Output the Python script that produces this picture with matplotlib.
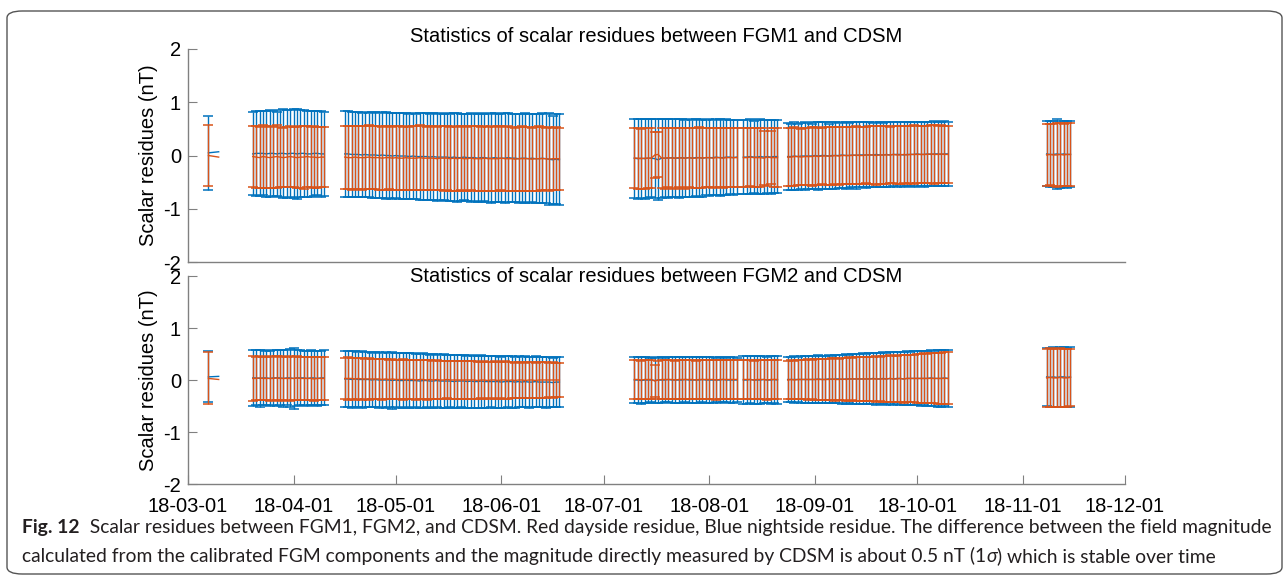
import matplotlib.pyplot as plt
import matplotlib.dates as mdates
from matplotlib.patches import FancyBboxPatch
import numpy as np
import pandas as pd

plt.rcParams['font.family'] = ['Liberation Sans', 'DejaVu Sans']

# days with data, one block per continuous run
segments = [
    pd.to_datetime(["2018-03-07", "2018-03-10"]),
    pd.date_range("2018-03-20", "2018-04-10"),
    pd.date_range("2018-04-16", "2018-06-18"),
    pd.date_range("2018-07-10", "2018-08-09"),
    pd.date_range("2018-08-11", "2018-08-21"),
    pd.date_range("2018-08-24", "2018-10-10"),
    pd.date_range("2018-11-08", "2018-11-15"),
]

nan = np.nan

# FGM1 - CDSM, nightside (blue)
fgm1_night_mean = [
    [0.05, 0.07],
    [0.03, 0.04, 0.04, 0.04, 0.03, 0.04, 0.04, 0.03, 0.04, 0.04, 0.03, 0.04, 0.04, 0.03, 0.04, 0.04, 0.03, 0.03, 0.04, 0.04, 0.03, 0.03],
    [0.03, 0.03, 0.02, 0.02, 0.02, 0.01, 0.02, 0.01, 0.01, 0.01, 0.00, 0.01, 0.00, 0.00, -0.01, 0.00, -0.01, -0.01, -0.01, -0.02, -0.01, -0.02, -0.02, -0.02, -0.02, -0.03, -0.02, -0.03, -0.03, -0.03, -0.03, -0.04,
     -0.03, -0.04, -0.04, -0.03, -0.04, -0.04, -0.04, -0.05, -0.04, -0.04, -0.05, -0.05, -0.04, -0.05, -0.05, -0.05, -0.04, -0.05, -0.05, -0.06, -0.05, -0.05, -0.06, -0.05, -0.06, -0.06, -0.05, -0.06, -0.07, -0.08, -0.07, -0.08],
    [-0.05, -0.06, -0.05, -0.06, -0.05, -0.05, -0.06, -0.08, -0.05, -0.05, -0.05, -0.04, -0.05, -0.05, -0.04, -0.05, -0.04, -0.05, -0.04, -0.04, -0.05, -0.04, -0.04, -0.04, -0.03, -0.04, -0.04, -0.03, -0.03, -0.04, -0.03],
    [-0.03, -0.03, -0.02, -0.03, -0.03, -0.02, -0.03, -0.02, -0.03, -0.02, -0.02],
    [-0.02, -0.02, -0.01, -0.02, -0.01, -0.01, -0.01, -0.01, 0.00, -0.01, 0.00, 0.00, -0.01, 0.00, 0.00, 0.00, 0.01, 0.00, 0.00, 0.01, 0.00, 0.01, 0.01, 0.01,
     0.01, 0.01, 0.02, 0.01, 0.01, 0.02, 0.01, 0.02, 0.02, 0.02, 0.01, 0.02, 0.02, 0.02, 0.03, 0.02, 0.02, 0.03, 0.02, 0.03, 0.03, 0.02, 0.03, 0.03],
    [0.03, 0.02, 0.02, 0.03, 0.02, 0.03, 0.02, 0.02],
]
fgm1_night_std = [
    [0.70, nan],
    [0.78, 0.80, 0.80, 0.79, 0.80, 0.81, 0.80, 0.79, 0.81, 0.83, 0.82, 0.81, 0.83, 0.84, 0.82, 0.81, 0.80, 0.81, 0.80, 0.79, 0.80, 0.79],
    [0.80, 0.80, 0.79, 0.80, 0.79, 0.79, 0.80, 0.79, 0.80, 0.80, 0.79, 0.80, 0.81, 0.80, 0.80, 0.79, 0.80, 0.81, 0.80, 0.80, 0.81, 0.80, 0.81, 0.82, 0.81, 0.80, 0.81, 0.82, 0.81, 0.81, 0.82, 0.81,
     0.82, 0.83, 0.82, 0.81, 0.82, 0.83, 0.82, 0.82, 0.83, 0.82, 0.83, 0.84, 0.83, 0.82, 0.83, 0.84, 0.83, 0.82, 0.83, 0.84, 0.83, 0.84, 0.83, 0.82, 0.83, 0.84, 0.85, 0.84, 0.86, 0.83, 0.84, 0.85],
    [0.74, 0.75, 0.74, 0.75, 0.74, 0.73, 0.74, 0.76, 0.74, 0.73, 0.74, 0.73, 0.73, 0.74, 0.73, 0.72, 0.73, 0.72, 0.72, 0.73, 0.72, 0.71, 0.72, 0.71, 0.71, 0.72, 0.70, 0.71, 0.70, 0.71, 0.70],
    [0.70, 0.69, 0.70, 0.68, 0.69, 0.70, 0.69, 0.68, 0.70, 0.69, 0.69],
    [0.63, 0.62, 0.63, 0.62, 0.62, 0.63, 0.62, 0.61, 0.62, 0.63, 0.62, 0.62, 0.61, 0.62, 0.62, 0.61, 0.62, 0.62, 0.61, 0.61, 0.62, 0.61, 0.61, 0.62,
     0.61, 0.60, 0.61, 0.61, 0.60, 0.61, 0.61, 0.60, 0.61, 0.60, 0.61, 0.60, 0.60, 0.61, 0.60, 0.60, 0.61, 0.60, 0.60, 0.61, 0.60, 0.60, 0.61, 0.60],
    [0.61, 0.62, 0.62, 0.65, 0.63, 0.62, 0.63, 0.62],
]

# FGM1 - CDSM, dayside (red)
fgm1_day_mean = [
    [0.00, -0.03],
    [-0.02, -0.03, -0.04, -0.02, -0.03, -0.04, -0.03, -0.02, -0.03, -0.04, -0.03, -0.02, -0.03, -0.04, -0.03, -0.03, -0.02, -0.03, -0.03, -0.04, -0.03, -0.03],
    [-0.03, -0.04, -0.04, -0.03, -0.04, -0.04, -0.04, -0.03, -0.04, -0.04, -0.04, -0.05, -0.04, -0.04, -0.05, -0.04, -0.05, -0.05, -0.04, -0.05, -0.05, -0.05, -0.04, -0.05, -0.05, -0.05, -0.05, -0.06, -0.05, -0.05, -0.05, -0.06,
     -0.05, -0.06, -0.05, -0.06, -0.06, -0.05, -0.06, -0.06, -0.06, -0.05, -0.06, -0.06, -0.06, -0.06, -0.05, -0.06, -0.06, -0.06, -0.07, -0.06, -0.06, -0.06, -0.06, -0.07, -0.06, -0.06, -0.06, -0.06, -0.07, -0.06, -0.06, -0.06],
    [-0.05, -0.05, -0.06, -0.05, -0.05, -0.05, 0.01, 0.02, -0.05, -0.05, -0.04, -0.05, -0.05, -0.04, -0.05, -0.05, -0.04, -0.05, -0.05, -0.04, -0.05, -0.04, -0.04, -0.05, -0.04, -0.04, -0.05, -0.04, -0.04, -0.04, -0.04],
    [-0.04, -0.04, -0.03, -0.04, -0.04, -0.04, -0.05, -0.03, -0.04, -0.04, -0.04],
    [-0.03, -0.03, -0.02, -0.02, -0.03, -0.02, -0.02, -0.02, -0.01, -0.02, -0.01, -0.01, -0.01, -0.01, 0.00, -0.01, 0.00, 0.00, 0.00, 0.00, 0.01, 0.00, 0.00, 0.01,
     0.01, 0.01, 0.00, 0.01, 0.01, 0.01, 0.01, 0.02, 0.01, 0.01, 0.02, 0.01, 0.02, 0.02, 0.02, 0.02, 0.02, 0.02, 0.03, 0.02, 0.02, 0.03, 0.02, 0.02],
    [0.01, 0.02, 0.01, 0.01, 0.02, 0.01, 0.02, 0.02],
]
fgm1_day_std = [
    [0.58, nan],
    [0.58, 0.58, 0.57, 0.59, 0.58, 0.57, 0.58, 0.59, 0.57, 0.56, 0.57, 0.58, 0.56, 0.57, 0.58, 0.59, 0.57, 0.57, 0.58, 0.57, 0.57, 0.57],
    [0.59, 0.59, 0.60, 0.59, 0.59, 0.60, 0.59, 0.60, 0.59, 0.59, 0.60, 0.59, 0.60, 0.59, 0.59, 0.60, 0.60, 0.59, 0.60, 0.59, 0.60, 0.60, 0.61, 0.60, 0.59, 0.60, 0.60, 0.59, 0.60, 0.61, 0.60, 0.60,
     0.61, 0.60, 0.60, 0.61, 0.60, 0.60, 0.61, 0.61, 0.60, 0.61, 0.60, 0.61, 0.60, 0.61, 0.60, 0.60, 0.61, 0.60, 0.59, 0.60, 0.61, 0.60, 0.60, 0.59, 0.60, 0.61, 0.59, 0.58, 0.60, 0.58, 0.59, 0.58],
    [0.56, 0.57, 0.56, 0.57, 0.56, 0.56, 0.44, 0.42, 0.56, 0.57, 0.56, 0.56, 0.57, 0.56, 0.56, 0.57, 0.56, 0.56, 0.56, 0.57, 0.56, 0.56, 0.55, 0.56, 0.56, 0.55, 0.56, 0.56, 0.55, 0.56, 0.55],
    [0.55, 0.56, 0.55, 0.55, 0.56, 0.55, 0.51, 0.55, 0.50, 0.55, 0.55],
    [0.54, 0.54, 0.55, 0.54, 0.53, 0.54, 0.54, 0.55, 0.54, 0.54, 0.53, 0.54, 0.54, 0.55, 0.54, 0.54, 0.53, 0.54, 0.54, 0.54, 0.55, 0.54, 0.54, 0.53,
     0.54, 0.54, 0.55, 0.54, 0.54, 0.54, 0.53, 0.54, 0.54, 0.55, 0.54, 0.54, 0.54, 0.55, 0.54, 0.54, 0.53, 0.54, 0.54, 0.55, 0.54, 0.54, 0.54, 0.54],
    [0.59, 0.58, 0.59, 0.60, 0.59, 0.58, 0.59, 0.59],
]

# FGM2 - CDSM, nightside (blue)
fgm2_night_mean = [
    [0.06, 0.07],
    [0.04, 0.04, 0.03, 0.04, 0.04, 0.03, 0.04, 0.04, 0.04, 0.03, 0.04, 0.04, 0.03, 0.04, 0.04, 0.04, 0.03, 0.04, 0.04, 0.03, 0.04, 0.04],
    [0.02, 0.02, 0.01, 0.02, 0.01, 0.01, 0.01, 0.01, 0.00, 0.01, 0.00, 0.00, 0.00, 0.00, -0.01, 0.00, -0.01, -0.01, 0.00, -0.01, -0.01, -0.01, -0.02, -0.01, -0.01, -0.02, -0.02, -0.01, -0.02, -0.02, -0.02, -0.02,
     -0.03, -0.02, -0.02, -0.02, -0.03, -0.02, -0.03, -0.03, -0.02, -0.03, -0.03, -0.03, -0.03, -0.03, -0.04, -0.03, -0.03, -0.03, -0.04, -0.03, -0.04, -0.03, -0.04, -0.04, -0.03, -0.04, -0.04, -0.04, -0.04, -0.05, -0.04, -0.04],
    [0.00, 0.00, -0.01, 0.00, 0.00, 0.00, -0.01, 0.00, 0.00, 0.00, 0.01, 0.00, 0.00, 0.00, 0.00, 0.01, 0.00, 0.00, 0.00, 0.00, 0.01, 0.00, 0.00, 0.00, 0.00, 0.00, 0.01, 0.00, 0.00, 0.00, 0.00],
    [0.00, 0.00, 0.01, 0.00, 0.00, 0.00, 0.01, 0.00, 0.00, 0.01, 0.00],
    [0.01, 0.01, 0.01, 0.01, 0.01, 0.01, 0.01, 0.01, 0.01, 0.02, 0.01, 0.01, 0.02, 0.01, 0.02, 0.02, 0.01, 0.02, 0.02, 0.02, 0.02, 0.02, 0.02, 0.02,
     0.02, 0.03, 0.02, 0.02, 0.03, 0.02, 0.03, 0.02, 0.03, 0.03, 0.02, 0.03, 0.03, 0.03, 0.03, 0.03, 0.03, 0.03, 0.04, 0.03, 0.03, 0.03, 0.04, 0.03],
    [0.06, 0.05, 0.06, 0.05, 0.06, 0.06, 0.05, 0.06],
]
fgm2_night_std = [
    [0.49, nan],
    [0.54, 0.53, 0.54, 0.53, 0.52, 0.53, 0.53, 0.54, 0.53, 0.54, 0.53, 0.55, 0.58, 0.54, 0.53, 0.52, 0.53, 0.53, 0.52, 0.53, 0.52, 0.53],
    [0.54, 0.53, 0.54, 0.53, 0.53, 0.54, 0.53, 0.53, 0.52, 0.53, 0.53, 0.52, 0.53, 0.52, 0.54, 0.52, 0.52, 0.53, 0.51, 0.52, 0.52, 0.51, 0.52, 0.52, 0.51, 0.51, 0.52, 0.51, 0.51, 0.52, 0.51, 0.50,
     0.51, 0.51, 0.50, 0.51, 0.50, 0.51, 0.50, 0.50, 0.51, 0.50, 0.50, 0.49, 0.50, 0.50, 0.49, 0.50, 0.49, 0.50, 0.49, 0.49, 0.48, 0.49, 0.49, 0.48, 0.49, 0.48, 0.48, 0.49, 0.48, 0.47, 0.48, 0.48],
    [0.45, 0.44, 0.46, 0.44, 0.44, 0.43, 0.44, 0.45, 0.44, 0.43, 0.44, 0.44, 0.45, 0.44, 0.44, 0.43, 0.44, 0.45, 0.44, 0.44, 0.43, 0.44, 0.45, 0.44, 0.43, 0.44, 0.44, 0.43, 0.44, 0.44, 0.43],
    [0.47, 0.46, 0.45, 0.46, 0.46, 0.47, 0.46, 0.45, 0.46, 0.45, 0.46],
    [0.44, 0.44, 0.45, 0.44, 0.45, 0.45, 0.45, 0.46, 0.45, 0.46, 0.46, 0.46, 0.47, 0.46, 0.47, 0.47, 0.47, 0.48, 0.47, 0.48, 0.48, 0.48, 0.49, 0.48,
     0.49, 0.49, 0.50, 0.49, 0.50, 0.50, 0.50, 0.51, 0.50, 0.51, 0.51, 0.52, 0.51, 0.52, 0.52, 0.53, 0.52, 0.53, 0.54, 0.53, 0.54, 0.55, 0.54, 0.55],
    [0.56, 0.57, 0.58, 0.57, 0.58, 0.57, 0.56, 0.57],
]

# FGM2 - CDSM, dayside (red)
fgm2_day_mean = [
    [0.03, 0.01],
    [0.03, 0.03, 0.04, 0.03, 0.03, 0.03, 0.03, 0.04, 0.03, 0.03, 0.03, 0.03, 0.03, 0.04, 0.03, 0.03, 0.03, 0.03, 0.02, 0.03, 0.03, 0.03],
    [0.03, 0.03, 0.03, 0.02, 0.03, 0.02, 0.02, 0.02, 0.02, 0.02, 0.02, 0.01, 0.02, 0.01, 0.02, 0.01, 0.01, 0.01, 0.01, 0.01, 0.01, 0.00, 0.01, 0.01, 0.00, 0.01, 0.00, 0.01, 0.00, 0.00, 0.01, 0.00,
     0.00, 0.00, 0.00, 0.00, 0.00, 0.00, 0.00, -0.01, 0.00, 0.00, -0.01, 0.00, 0.00, -0.01, 0.00, 0.00, -0.01, 0.00, -0.01, 0.00, 0.00, -0.01, 0.00, 0.00, -0.01, 0.00, 0.00, 0.00, 0.00, 0.00, 0.00, 0.00],
    [0.01, 0.01, 0.00, 0.01, 0.01, 0.01, -0.02, 0.00, 0.01, 0.01, 0.01, 0.01, 0.00, 0.01, 0.01, 0.01, 0.01, 0.01, 0.00, 0.01, 0.01, 0.01, 0.01, 0.01, 0.00, 0.01, 0.01, 0.01, 0.01, 0.01, 0.01],
    [0.01, 0.01, 0.01, 0.00, 0.01, 0.01, 0.01, 0.00, 0.01, 0.01, 0.01],
    [0.00, 0.01, 0.00, 0.01, 0.01, 0.01, 0.01, 0.01, 0.01, 0.01, 0.01, 0.01, 0.01, 0.02, 0.01, 0.01, 0.02, 0.01, 0.02, 0.02, 0.02, 0.02, 0.02, 0.02,
     0.02, 0.02, 0.02, 0.02, 0.02, 0.02, 0.03, 0.02, 0.02, 0.03, 0.02, 0.03, 0.03, 0.03, 0.03, 0.03, 0.03, 0.03, 0.03, 0.03, 0.03, 0.03, 0.03, 0.03],
    [0.04, 0.05, 0.04, 0.04, 0.05, 0.04, 0.04, 0.05],
]
fgm2_day_std = [
    [0.50, nan],
    [0.43, 0.42, 0.43, 0.42, 0.42, 0.43, 0.42, 0.42, 0.43, 0.41, 0.42, 0.43, 0.42, 0.42, 0.41, 0.42, 0.42, 0.41, 0.42, 0.41, 0.41, 0.41],
    [0.40, 0.41, 0.40, 0.40, 0.39, 0.40, 0.39, 0.40, 0.39, 0.39, 0.38, 0.39, 0.39, 0.38, 0.39, 0.38, 0.38, 0.39, 0.38, 0.38, 0.37, 0.38, 0.38, 0.37, 0.38, 0.37, 0.37, 0.38, 0.37, 0.37, 0.36, 0.37,
     0.37, 0.36, 0.37, 0.36, 0.36, 0.37, 0.36, 0.36, 0.35, 0.36, 0.36, 0.35, 0.36, 0.35, 0.35, 0.36, 0.35, 0.35, 0.34, 0.35, 0.35, 0.34, 0.35, 0.34, 0.34, 0.35, 0.34, 0.34, 0.33, 0.34, 0.33, 0.33],
    [0.37, 0.38, 0.37, 0.37, 0.37, 0.38, 0.30, 0.36, 0.37, 0.37, 0.38, 0.37, 0.37, 0.37, 0.38, 0.37, 0.37, 0.37, 0.37, 0.38, 0.37, 0.37, 0.37, 0.37, 0.38, 0.37, 0.37, 0.37, 0.37, 0.37, 0.37],
    [0.37, 0.38, 0.37, 0.37, 0.38, 0.37, 0.37, 0.38, 0.37, 0.37, 0.38],
    [0.37, 0.38, 0.37, 0.38, 0.38, 0.38, 0.39, 0.38, 0.39, 0.39, 0.40, 0.39, 0.40, 0.40, 0.41, 0.40, 0.41, 0.41, 0.42, 0.41, 0.42, 0.42, 0.43, 0.42,
     0.43, 0.43, 0.44, 0.43, 0.44, 0.44, 0.45, 0.44, 0.45, 0.45, 0.46, 0.45, 0.46, 0.46, 0.47, 0.47, 0.48, 0.47, 0.48, 0.48, 0.49, 0.49, 0.50, 0.50],
    [0.55, 0.56, 0.55, 0.56, 0.56, 0.55, 0.56, 0.55],
]

titles = ["Statistics of scalar residues between FGM1 and CDSM",
          "Statistics of scalar residues between FGM2 and CDSM"]

blue = '#0072BD'
red = '#D95319'
axis_gray = '#808080'

W, H = 1284, 578
fig = plt.figure(figsize=(W/100, H/100), dpi=100)

# axes boxes in pixels: left, right, top, bottom
boxes = [(188, 1125, 49, 262), (188, 1125, 276, 484)]
panels = [
    (fgm1_night_mean, fgm1_night_std, fgm1_day_mean, fgm1_day_std),
    (fgm2_night_mean, fgm2_night_std, fgm2_day_mean, fgm2_day_std),
]

axes = []
for i, (box, data) in enumerate(zip(boxes, panels)):
    l, r, t, b = box
    ax = fig.add_axes([l/W, 1 - b/H, (r - l)/W, (b - t)/H])
    axes.append(ax)
    nm, ns, dm, ds = data
    for k, days in enumerate(segments):
        ax.errorbar(days, nm[k], yerr=ns[k], color=blue, lw=1.0,
                    elinewidth=1.0, capsize=3.5, capthick=1.1, zorder=2)
    for k, days in enumerate(segments):
        ax.errorbar(days, dm[k], yerr=ds[k], color=red, lw=1.0,
                    elinewidth=1.0, capsize=3.5, capthick=1.1, zorder=3)

    ax.set_xlim(pd.Timestamp("2018-03-01"), pd.Timestamp("2018-12-01"))
    ax.set_ylim(-2, 2)
    ax.set_yticks([-2, -1, 0, 1, 2])
    ax.set_yticklabels(['-2', '-1', '0', '1', '2'])
    ax.xaxis.set_major_locator(mdates.MonthLocator())
    ax.xaxis.set_major_formatter(mdates.DateFormatter('%y-%m-%d'))
    ax.tick_params(direction='in', length=6.5, width=0.8, color=axis_gray,
                   labelsize=14.5, pad=5)
    ax.tick_params(axis='x', pad=9)
    for s in ['top', 'right']:
        ax.spines[s].set_visible(False)
    for s in ['left', 'bottom']:
        ax.spines[s].set_color(axis_gray)
        ax.spines[s].set_linewidth(1.0)
    ax.set_ylabel('Scalar residues (nT)', fontsize=14.5, labelpad=4)
    ax.patch.set_alpha(0)

axes[0].tick_params(axis='x', bottom=False, labelbottom=False)

fig.text(656/W, 1 - 37/H, titles[0], ha='center', va='center', fontsize=14.5)
fig.text(656/W, 1 - 277/H, titles[1], ha='center', va='center', fontsize=14.5)

# caption, built from pieces so the bold and italic parts line up
cap_fam = ['Lato', 'DejaVu Sans']
cap_size = 13.85
renderer = fig.canvas.get_renderer()


def write_line(x_px, y_px, pieces):
    x = x_px
    for txt, weight, style in pieces:
        t = fig.text(x/W, 1 - y_px/H, txt, ha='left', va='baseline',
                     fontsize=cap_size, family=cap_fam, fontweight=weight,
                     fontstyle=style, color='#231f20')
        x = t.get_window_extent(renderer).x1


write_line(22, 533, [
    ("Fig. 12", 'bold', 'normal'),
    ("  Scalar residues between FGM1, FGM2, and CDSM. Red dayside residue, Blue nightside residue. "
     "The difference between the field magnitude", 'normal', 'normal'),
])
write_line(22, 562, [
    ("calculated from the calibrated FGM components and the magnitude directly measured by CDSM "
     "is about 0.5 nT (1", 'normal', 'normal'),
    ("σ", 'normal', 'italic'),
    (") which is stable over time", 'normal', 'normal'),
])

border = FancyBboxPatch((7/W, 1 - 574/H), (W - 9)/W, (574 - 11)/H,
                        boxstyle="round,pad=0,rounding_size=0.012",
                        transform=fig.transFigure, fill=False,
                        ec='#555555', lw=1.0)
fig.patches.append(border)

fig.savefig('out.png', dpi=100)
